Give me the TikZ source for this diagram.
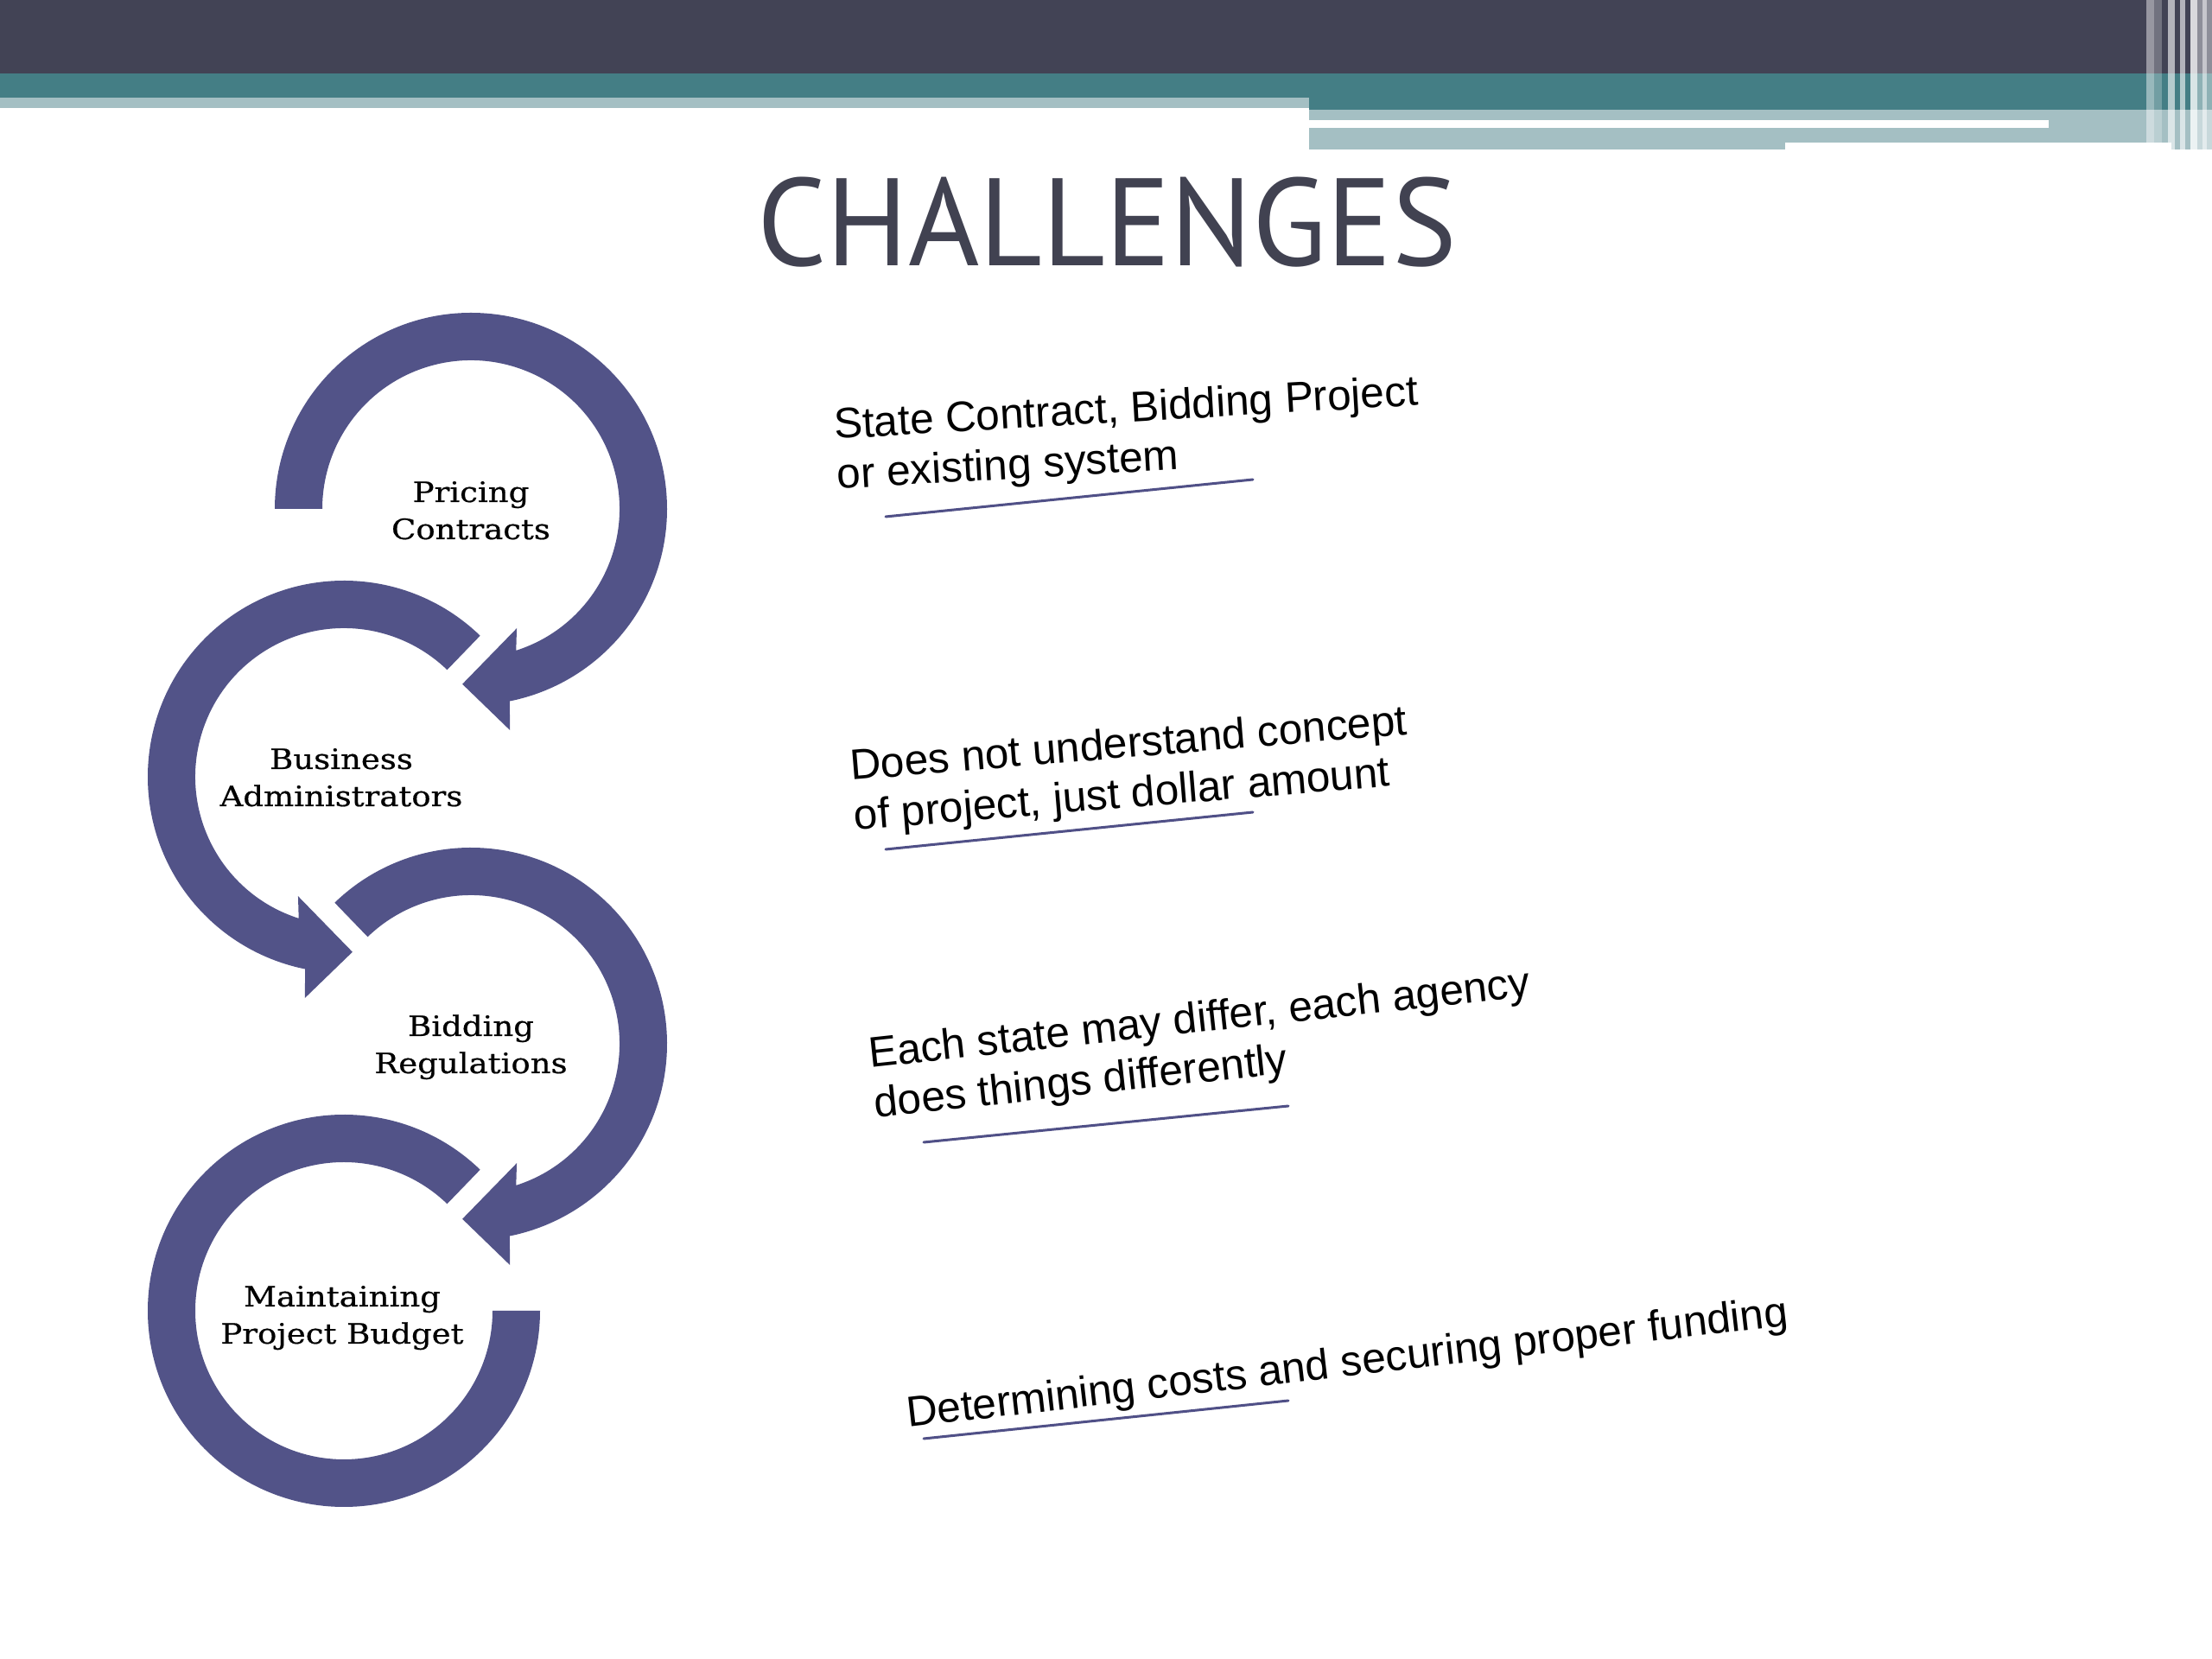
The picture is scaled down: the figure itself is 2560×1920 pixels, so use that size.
\documentclass[tikz,border=0pt]{standalone}
\usepackage{fontspec}
\usepackage{graphicx}
\usetikzlibrary{calc}
\newfontfamily\titlefont{PT Sans}
\newfontfamily\ringfont[FakeBold=0.5]{DejaVu Serif}
\newfontfamily\notefont{Liberation Sans}
\definecolor{topdark}{RGB}{66,67,85}
\definecolor{bandteal}{RGB}{68,126,133}
\definecolor{bandlight}{RGB}{164,191,195}
\definecolor{ringblue}{RGB}{82,83,136}
\definecolor{titlegray}{RGB}{65,66,81}
\definecolor{lineblue}{RGB}{80,80,135}
\begin{document}
\begin{tikzpicture}[x=1pt,y=1pt,
  ring/.style={fill=ringblue, draw=none},
  ringlabel/.style={font=\ringfont\fontsize{32.5}{43}\selectfont, inner sep=0pt, anchor=base, text=black, xscale=1.14},
  note/.style={font=\notefont\fontsize{49.5}{58}\selectfont, inner sep=0pt, anchor=base west, text=black},
  uline/.style={draw=lineblue, line width=3pt, line cap=round}]
\useasboundingbox (0,0) rectangle (2560,1920);
\fill[white] (0,0) rectangle (2560,1920);
% top bands
\fill[topdark] (0,1920) rectangle (2560,1835);
\fill[bandteal] (0,1835) rectangle (1515,1807);
\fill[bandlight] (0,1807) rectangle (1515,1795);
\fill[bandteal] (1515,1835) rectangle (2560,1793);
\fill[bandlight] (1515,1793) rectangle (2066,1747);
\fill[bandlight] (2066,1793) rectangle (2513,1755);
\fill[bandlight] (2513,1793) rectangle (2560,1747);
\fill[white] (1515,1781) rectangle (2371,1772);
% right stripes
\fill[white, opacity=0.45] (2484,1920) rectangle (2493,1747);
\fill[white, opacity=0.25] (2493,1920) rectangle (2502,1747);
\fill[white, opacity=0.6] (2509,1920) rectangle (2517,1747);
\fill[white, opacity=0.6] (2523,1920) rectangle (2529,1747);
\fill[white, opacity=0.8] (2535,1920) rectangle (2543,1747);
\fill[white, opacity=0.4] (2543,1920) rectangle (2549,1747);
\fill[white, opacity=0.7] (2549,1920) rectangle (2554,1747);
\fill[white, opacity=0.4] (2554,1920) rectangle (2560,1747);
% title
\node[font=\titlefont\fontsize{144}{144}\selectfont, text=titlegray, inner sep=0pt, xscale=0.978] (title) at (1281,1663) {CHALLENGES};
% ring centres
\coordinate (c1) at (545,1331);
\coordinate (c2) at (398,1021);
\coordinate (c3) at (545,712);
\coordinate (c4) at (398,403);
% ring 1
\fill[ring] ([shift={(180:227)}]c1) arc[start angle=180, end angle=-78.6, radius=227]
  -- ([shift={(-80:260)}]c1) -- ([shift={(-92.8:203)}]c1) -- ([shift={(-69:148)}]c1)
  -- ([shift={(-72.3:172)}]c1) arc[start angle=-72.3, end angle=180, radius=172] -- cycle;
% ring 2
\fill[ring] ([shift={(46:227)}]c2) arc[start angle=46, end angle=258.6, radius=227]
  -- ([shift={(260:260)}]c2) -- ([shift={(272.8:203)}]c2) -- ([shift={(249:148)}]c2)
  -- ([shift={(252.3:172)}]c2) arc[start angle=252.3, end angle=46, radius=172] -- cycle;
% ring 3
\fill[ring] ([shift={(134:227)}]c3) arc[start angle=134, end angle=-78.6, radius=227]
  -- ([shift={(-80:260)}]c3) -- ([shift={(-92.8:203)}]c3) -- ([shift={(-69:148)}]c3)
  -- ([shift={(-72.3:172)}]c3) arc[start angle=-72.3, end angle=134, radius=172] -- cycle;
% ring 4
\fill[ring] ([shift={(46:227)}]c4) arc[start angle=46, end angle=360, radius=227]
  -- ([shift={(0:172)}]c4) arc[start angle=360, end angle=46, radius=172] -- cycle;
% ring labels
\node[ringlabel] (pricing) at (545,1339) {\begin{tabular}[t]{@{}c@{}}Pricing\\Contracts\end{tabular}};
\node[ringlabel] (business) at (395,1030) {\begin{tabular}[t]{@{}c@{}}Business\\Administrators\end{tabular}};
\node[ringlabel] (bidding) at (545,721) {\begin{tabular}[t]{@{}c@{}}Bidding\\Regulations\end{tabular}};
\node[ringlabel] (budget) at (396,408) {\begin{tabular}[t]{@{}c@{}}Maintaining\\Project Budget\end{tabular}};
% notes
\node[note, rotate=3.3] (n1) at (966,1412) {\begin{tabular}[t]{@{}l@{}}State Contract, Bidding Project\\or existing system\end{tabular}};
\node[note, rotate=4.7] (n2) at (985,1017) {\begin{tabular}[t]{@{}l@{}}Does not understand concept\\of project, just dollar amount\end{tabular}};
\node[note, rotate=6.2] (n3) at (1007,684) {\begin{tabular}[t]{@{}l@{}}Each state may differ, each agency\\does things differently\end{tabular}};
\node[note, rotate=6.6] (n4) at (1051,268) {Determining costs and securing proper funding};
% underlines
\coordinate (u1a) at (1025,1322); \coordinate (u1b) at (1450,1365);
\coordinate (u2a) at (1025,937);  \coordinate (u2b) at (1450,980);
\coordinate (u3a) at (1069,598);  \coordinate (u3b) at (1491,640);
\coordinate (u4a) at (1069,255);  \coordinate (u4b) at (1491,299);
\draw[uline] (u1a) -- (u1b);
\draw[uline] (u2a) -- (u2b);
\draw[uline] (u3a) -- (u3b);
\draw[uline] (u4a) -- (u4b);
\end{tikzpicture}
\end{document}
